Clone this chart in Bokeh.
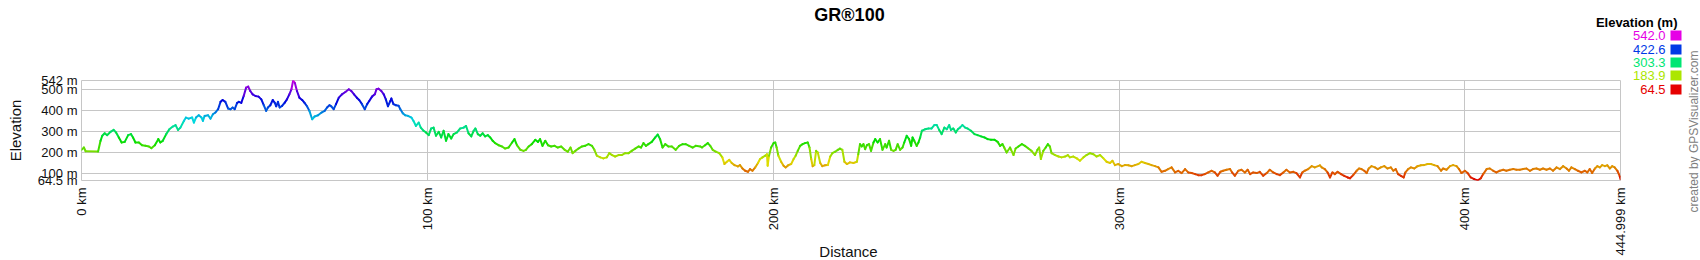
import math
import colorsys
from bokeh.plotting import figure
from bokeh.models import Range1d, FixedTicker, ColumnDataSource
from bokeh.core.properties import value
from bokeh.embed import file_html
from bokeh.resources import INLINE

# ---------------- data ----------------
title_text = "GR®100"

dist_km = [
    0.0, 0.7, 1.2, 4.8, 5.5, 6.0, 6.7, 7.4, 8.4, 9.3, 10.0, 10.8, 11.6, 12.5, 13.5, 14.3, 14.9, 15.6, 16.6, 17.5,
    18.5, 19.5, 20.2, 21.2, 22.2, 22.8, 23.5, 24.5, 25.4, 26.4, 27.2, 27.9, 28.6, 29.6, 30.2, 31.0, 32.0, 32.5, 33.1, 33.9,
    34.7, 35.1, 35.6, 36.6, 37.3, 38.0, 38.7, 39.5, 40.2, 40.8, 41.6, 42.4, 43.1, 43.7, 44.3, 45.0, 45.5, 46.2, 46.9, 47.6,
    48.2, 48.8, 49.5, 50.3, 51.2, 52.0, 52.7, 53.4, 53.9, 54.6, 55.3, 55.9, 56.3, 56.8, 57.3, 58.0, 58.8, 59.4, 60.1, 60.7,
    61.2, 61.7, 62.3, 63.0, 63.8, 64.5, 65.2, 65.9, 66.7, 67.4, 68.4, 69.4, 70.3, 71.0, 71.7, 72.2, 72.9, 73.6, 74.4, 75.3,
    76.3, 77.3, 78.0, 78.8, 79.6, 80.3, 81.1, 81.9, 82.6, 83.2, 84.0, 84.8, 85.3, 85.9, 86.7, 87.4, 88.0, 88.6, 89.3, 89.6,
    90.2, 90.9, 91.7, 92.2, 92.9, 93.6, 94.4, 95.4, 96.0, 96.7, 97.5, 98.1, 98.9, 99.6, 100.4, 101.1, 101.8, 102.5, 103.3, 104.0,
    104.7, 105.4, 106.1, 106.9, 107.6, 108.6, 109.5, 110.5, 111.2, 111.9, 112.7, 113.4, 113.9, 114.6, 115.3, 116.0, 116.7, 117.5, 118.2, 118.9,
    119.6, 120.6, 121.6, 122.5, 123.5, 124.5, 125.2, 125.9, 126.9, 127.8, 128.5, 129.3, 130.2, 131.2, 132.0, 132.6, 133.3, 134.1, 134.9, 135.8,
    136.8, 137.7, 138.7, 139.7, 140.6, 141.4, 142.0, 142.8, 143.7, 144.7, 145.6, 146.6, 147.6, 148.3, 149.0, 150.0, 150.9, 151.9, 152.6, 153.4,
    154.3, 155.3, 156.2, 157.2, 158.2, 159.1, 160.1, 161.1, 161.8, 162.5, 163.2, 163.9, 164.9, 165.9, 166.6, 167.3, 168.0, 168.8, 169.7, 170.7,
    171.8, 172.8, 173.8, 174.7, 175.7, 176.7, 177.6, 178.9, 179.4, 180.3, 181.1, 181.8, 182.5, 183.4, 184.4, 185.3, 185.9, 186.6, 187.3, 188.0,
    188.8, 189.8, 190.4, 191.1, 191.9, 192.7, 193.3, 194.0, 194.8, 195.6, 196.2, 196.9, 197.7, 198.2, 198.4, 198.8, 199.4, 200.1, 200.6, 201.0,
    201.5, 202.3, 203.0, 203.6, 204.4, 205.2, 205.9, 206.5, 207.1, 207.8, 208.5, 209.2, 210.0, 210.5, 211.0, 211.4, 211.9, 212.4, 212.9, 213.6,
    214.2, 215.0, 215.8, 216.5, 217.1, 217.9, 218.7, 219.3, 220.0, 220.6, 221.3, 222.2, 223.2, 224.2, 224.6, 225.1, 225.6, 226.1, 226.6, 227.1,
    227.7, 228.3, 229.0, 229.5, 230.2, 230.9, 231.6, 232.4, 232.8, 233.5, 234.1, 234.8, 235.4, 236.0, 236.7, 237.4, 237.9, 238.6, 239.3, 239.9,
    240.3, 240.8, 241.5, 242.0, 242.5, 243.0, 243.9, 244.9, 245.8, 246.6, 247.3, 248.0, 248.7, 249.5, 250.2, 250.9, 251.4, 252.1, 252.8, 253.4,
    254.0, 254.7, 255.5, 256.2, 257.2, 258.2, 259.1, 260.1, 261.1, 262.0, 263.0, 264.0, 264.9, 265.6, 266.3, 266.8, 267.5, 268.5, 268.8, 269.5,
    270.1, 270.9, 271.9, 272.8, 273.8, 274.7, 275.7, 276.4, 276.9, 277.4, 278.1, 278.8, 279.4, 280.0, 280.5, 281.5, 282.5, 283.4, 284.4, 285.2,
    285.8, 286.8, 287.8, 288.7, 289.7, 290.6, 291.6, 292.6, 293.5, 294.5, 295.5, 296.4, 297.4, 298.1, 298.8, 299.8, 300.8, 301.7, 302.7, 303.7,
    304.6, 305.6, 306.5, 307.5, 308.5, 309.4, 310.4, 311.4, 312.3, 313.3, 314.2, 315.2, 316.2, 317.1, 318.1, 319.1, 320.0, 321.0, 322.0, 322.9,
    323.9, 324.8, 325.8, 326.8, 327.7, 328.5, 329.3, 330.1, 331.1, 332.1, 332.7, 333.5, 334.5, 335.4, 336.4, 337.2, 337.9, 338.8, 339.8, 340.7,
    341.7, 342.7, 343.6, 344.6, 345.6, 346.5, 347.5, 348.4, 349.4, 350.4, 351.3, 352.3, 353.0, 353.7, 354.7, 355.7, 356.6, 358.1, 358.6, 359.5,
    360.3, 361.0, 361.7, 362.4, 363.2, 364.2, 365.1, 366.1, 366.8, 367.7, 368.7, 369.4, 370.1, 370.9, 371.6, 372.2, 373.0, 374.0, 374.8, 375.7,
    376.7, 377.6, 378.6, 379.3, 380.0, 380.7, 381.5, 382.3, 382.8, 383.6, 384.4, 385.4, 386.3, 387.3, 388.2, 389.2, 390.2, 391.1, 392.1, 393.1,
    393.7, 394.7, 395.7, 396.6, 397.6, 398.3, 399.0, 400.0, 400.8, 401.7, 402.7, 403.7, 404.6, 405.3, 406.3, 407.2, 408.2, 409.1, 410.1, 411.1,
    412.0, 413.0, 414.0, 414.9, 415.9, 416.9, 417.8, 418.8, 419.7, 420.7, 421.7, 422.6, 423.6, 424.6, 425.5, 426.5, 427.5, 428.4, 429.4, 430.1,
    430.8, 431.8, 432.7, 433.7, 434.7, 435.4, 436.1, 436.8, 437.6, 438.3, 439.0, 439.7, 440.5, 441.2, 441.9, 442.6, 443.3, 444.1, 444.8, 444.999,
]

elev_m = [
    211, 222, 204, 203, 254, 278, 290, 281, 297, 306, 294, 270, 246, 249, 281, 286, 270, 246, 246, 233,
    230, 227, 219, 233, 262, 246, 254, 286, 309, 322, 329, 306, 317, 349, 365, 360, 365, 341, 365, 376,
    365, 349, 373, 376, 360, 381, 389, 405, 440, 449, 440, 408, 405, 413, 405, 435, 440, 435, 468, 508,
    513, 492, 476, 468, 465, 452, 424, 397, 413, 424, 449, 435, 419, 440, 413, 421, 437, 452, 476, 500,
    542, 530, 492, 460, 449, 435, 419, 397, 357, 370, 376, 389, 397, 413, 424, 419, 405, 429, 460, 476,
    487, 500, 492, 476, 460, 449, 429, 405, 429, 444, 465, 476, 500, 503, 492, 476, 452, 419, 444, 456,
    429, 424, 421, 405, 386, 376, 373, 365, 349, 325, 341, 317, 302, 294, 281, 313, 317, 278, 297, 270,
    302, 254, 286, 265, 286, 294, 313, 317, 325, 290, 275, 302, 313, 286, 278, 290, 275, 281, 270, 254,
    243, 233, 227, 217, 222, 246, 262, 233, 211, 206, 211, 227, 238, 259, 249, 262, 230, 254, 233, 227,
    230, 222, 227, 211, 202, 222, 195, 206, 217, 227, 230, 238, 230, 211, 183, 175, 170, 175, 195, 186,
    179, 186, 186, 195, 195, 206, 217, 227, 222, 243, 230, 238, 249, 270, 284, 262, 222, 238, 227, 227,
    211, 230, 238, 238, 230, 222, 230, 227, 222, 233, 243, 230, 211, 202, 195, 175, 143, 154, 163, 148,
    138, 132, 138, 122, 111, 106, 119, 111, 127, 148, 167, 175, 183, 190, 135, 183, 222, 243, 246, 222,
    183, 154, 135, 127, 138, 143, 167, 183, 206, 230, 238, 243, 246, 222, 167, 133, 138, 206, 198, 148,
    133, 137, 138, 179, 195, 202, 211, 217, 211, 154, 143, 151, 148, 154, 190, 238, 227, 238, 214, 233,
    238, 206, 246, 262, 246, 262, 211, 238, 222, 254, 211, 206, 211, 238, 211, 222, 246, 278, 262, 230,
    270, 254, 230, 246, 270, 302, 309, 313, 313, 329, 329, 306, 286, 317, 309, 329, 306, 313, 294, 309,
    317, 329, 317, 313, 302, 286, 281, 275, 270, 262, 259, 259, 249, 230, 238, 222, 198, 222, 211, 186,
    217, 227, 238, 230, 217, 206, 186, 211, 222, 167, 206, 222, 238, 227, 195, 186, 179, 175, 179, 186,
    175, 179, 170, 159, 175, 186, 195, 190, 179, 186, 170, 154, 148, 159, 138, 143, 133, 138, 137, 133,
    138, 143, 154, 148, 143, 138, 133, 127, 106, 111, 119, 127, 103, 111, 100, 119, 103, 100, 95, 90,
    90, 95, 103, 111, 103, 87, 106, 111, 116, 119, 103, 87, 111, 116, 103, 116, 95, 103, 100, 106,
    87, 100, 116, 103, 95, 90, 103, 116, 103, 106, 100, 79, 103, 111, 119, 133, 127, 137, 127, 119,
    103, 79, 103, 95, 106, 95, 87, 79, 75, 90, 111, 122, 119, 111, 100, 122, 133, 127, 119, 127,
    133, 122, 127, 111, 119, 95, 87, 79, 103, 119, 127, 122, 133, 137, 138, 143, 143, 138, 133, 111,
    122, 116, 133, 138, 133, 119, 100, 111, 100, 79, 71, 64.5, 75, 95, 119, 122, 111, 103, 111, 116,
    111, 116, 119, 116, 116, 119, 122, 111, 119, 122, 116, 122, 116, 122, 111, 127, 119, 133, 122, 111,
    127, 119, 111, 103, 111, 103, 119, 100, 122, 133, 127, 138, 133, 137, 122, 133, 127, 111, 84, 70,
]

x_ticks = [0, 100, 200, 300, 400, 444.999]
x_tick_labels = ["0 km", "100 km", "200 km", "300 km", "400 km", "444.999 km"]
y_ticks = [64.5, 100, 200, 300, 400, 500, 542]
y_tick_labels = ["64.5 m", "100 m", "200 m", "300 m", "400 m", "500 m", "542 m"]
x_title = "Distance"
y_title = "Elevation"
legend_title = "Elevation (m)"
legend_values = [542.0, 422.6, 303.3, 183.9, 64.5]
legend_labels = ["542.0", "422.6", "303.3", "183.9", "64.5"]
credit_text = "created by GPSVisualizer.com"

E_MIN, E_MAX = 64.5, 542.0
D_MAX = 444.999


def elev_color(e, v=0.87):
    h = 300.0 * (e - E_MIN) / (E_MAX - E_MIN) / 360.0
    r, g, b = colorsys.hsv_to_rgb(h, 1.0, v)
    return "#%02x%02x%02x" % (round(r * 255), round(g * 255), round(b * 255))


# ---------------- geometry (pixels) ----------------
W, H = 1700, 260
FL, FR, FT, FB = 81, 1620, 80, 180
FONT = "Liberation Sans"
GRID = "#c6c6c6"
TXT = "#111111"

# ---------------- main chart ----------------
p = figure(width=W, height=H, title=None,
           x_range=Range1d(0, D_MAX), y_range=Range1d(E_MIN, E_MAX),
           output_backend="svg", toolbar_location=None,
           min_border_left=FL, min_border_right=W - FR,
           min_border_top=FT, min_border_bottom=H - FB)
p.background_fill_color = "white"
p.border_fill_color = "white"
p.outline_line_color = GRID

p.xaxis.ticker = FixedTicker(ticks=x_ticks)
p.xaxis.major_label_overrides = dict(zip(x_ticks, x_tick_labels))
p.xaxis.major_label_orientation = math.pi / 2
p.yaxis.ticker = FixedTicker(ticks=y_ticks)
p.yaxis.major_label_overrides = dict(zip(y_ticks, y_tick_labels))
for ax in (p.xaxis[0], p.yaxis[0]):
    ax.axis_line_color = None
    ax.major_tick_line_color = None
    ax.minor_tick_line_color = None
    ax.major_tick_in = 0
    ax.major_tick_out = 0
    ax.minor_tick_in = 0
    ax.minor_tick_out = 0
    ax.major_label_text_font = FONT
    ax.major_label_text_font_size = "13px"
    ax.major_label_text_color = TXT
    ax.axis_label_text_font = FONT
    ax.axis_label_text_font_style = "normal"
    ax.axis_label_text_color = TXT
    ax.axis_label_text_font_size = "15px"
p.xaxis.major_label_standoff = 7
p.yaxis.major_label_standoff = 4
p.yaxis.axis_label = y_title
p.yaxis.axis_label_standoff = 11

p.grid.grid_line_color = GRID
p.grid.grid_line_width = 1

# elevation-coloured profile
x0 = dist_km[:-1]
x1 = dist_km[1:]
y0 = elev_m[:-1]
y1 = elev_m[1:]
cols = [elev_color((a + b) / 2.0) for a, b in zip(y0, y1)]
src = ColumnDataSource(dict(x0=x0, y0=y0, x1=x1, y1=y1, color=cols))
p.segment(x0="x0", y0="y0", x1="x1", y1="y1", color="color", source=src,
          line_width=2, line_cap="round")

# ---------------- transparent overlay for texts outside the plot area ----------------
ov = figure(width=W, height=H, x_range=Range1d(0, W), y_range=Range1d(H, 0),
            x_axis_type=None, y_axis_type=None, output_backend="svg",
            toolbar_location=None, min_border=0, title=None,
            styles={"position": "absolute", "top": "0px", "left": "0px"})
ov.grid.visible = False
ov.outline_line_color = None
ov.background_fill_alpha = 0
ov.border_fill_alpha = 0

ov.text(x=[849], y=[14], text=[title_text], text_font=value(FONT),
        text_font_size=value("18px"), text_font_style="bold", text_color="#000000",
        text_align="center", text_baseline="middle")
ov.text(x=[848], y=[251], text=[x_title], text_font=value(FONT),
        text_font_size=value("15px"), text_color=TXT,
        text_align="center", text_baseline="middle")
ov.text(x=[1677], y=[22], text=[legend_title], text_font=value(FONT),
        text_font_size=value("13px"), text_font_style="bold", text_color="#000000",
        text_align="right", text_baseline="middle")
legend_rows = [35, 49, 62, 75, 89]
for val, lab, ry in zip(legend_values, legend_labels, legend_rows):
    c = elev_color(val, 0.9)
    ov.text(x=[1665], y=[ry], text=[lab], text_font=value(FONT),
            text_font_size=value("13px"), text_color=c,
            text_align="right", text_baseline="middle")
    ov.quad(left=[1670], right=[1681], top=[ry - 5], bottom=[ry + 5],
            fill_color=c, line_color=None)
ov.text(x=[1693], y=[131], text=[credit_text], angle=math.pi / 2,
        text_font=value(FONT), text_font_size=value("12px"), text_color="#808080",
        text_align="center", text_baseline="middle")

open("out.html", "w").write(file_html([p, ov], INLINE))
